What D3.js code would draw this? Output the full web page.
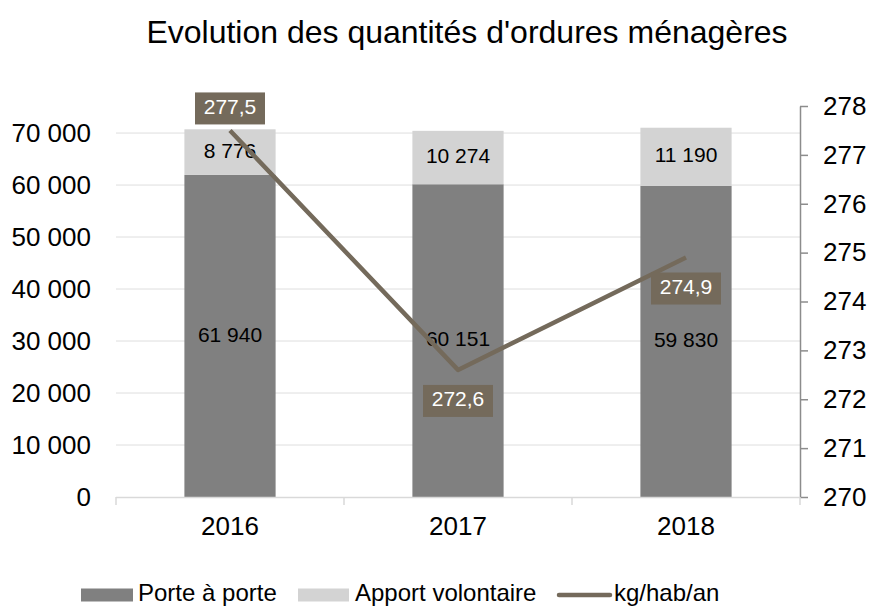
<!DOCTYPE html>
<html>
<head>
<meta charset="utf-8">
<script src="https://cdn.jsdelivr.net/npm/d3@7"></script>
<style>
  body { margin: 0; background: #fff; }
  #container { width: 870px; height: 607px; }
  text { font-family: "Liberation Sans", Arial, sans-serif; }
</style>
</head>
<body>
<div id="container"></div>
<script>
// chart values
const years = ["2016", "2017", "2018"];
const porteAPorte = [61940, 60151, 59830];
const apportVolontaire = [8776, 10274, 11190];
const kgHabAn = [277.5, 272.6, 274.9];
const leftTicks = [0, 10000, 20000, 30000, 40000, 50000, 60000, 70000];
const rightTicks = [270, 271, 272, 273, 274, 275, 276, 277, 278];
const legendLabels = ["Porte à porte", "Apport volontaire", "kg/hab/an"];
const title = "Evolution des quantités d'ordures ménagères";

const dark = "#808080",
      light = "#d3d3d3",
      lineColor = "#746a5b",
      gridColor = "#dedede";

const fr = d3.formatLocale({decimal: ",", thousands: " ", grouping: [3], currency: ["", " €"]});
const fmtInt = fr.format(",d");
const fmtDec = fr.format(",.1f");

function draw() {
  const width = 870, height = 607;
  const plot = {left: 116, right: 800, top: 106, bottom: 497};

  let svg = d3.select("#container")
    .append("svg")
    .attr("width", width)
    .attr("height", height);

  const x = d3.scaleBand()
    .domain(years)
    .range([plot.left, plot.right])
    .paddingInner(0.6)
    .paddingOuter(0.3);

  const band = d3.scaleBand().domain(years).range([plot.left, plot.right]);

  const yLeft = d3.scaleLinear()
    .domain([0, 75200])
    .range([plot.bottom, plot.top]);

  const yRight = d3.scaleLinear()
    .domain([270, 278])
    .range([plot.bottom, plot.top]);

  // title
  svg.append("text")
    .attr("x", 467)
    .attr("y", 43)
    .attr("text-anchor", "middle")
    .attr("font-size", 32)
    .attr("fill", "#000")
    .text(title);

  // gridlines
  svg.append("g")
    .selectAll("line")
    .data(leftTicks.slice(1))
    .enter()
    .append("line")
    .attr("x1", plot.left)
    .attr("x2", plot.right)
    .attr("y1", d => yLeft(d))
    .attr("y2", d => yLeft(d))
    .attr("stroke", gridColor)
    .attr("stroke-width", 1);

  // left axis labels
  const leftAxis = d3.axisLeft(yLeft)
    .tickValues(leftTicks)
    .tickFormat(fmtInt)
    .tickSize(0)
    .tickPadding(25);

  const leftG = svg.append("g")
    .attr("transform", "translate(" + plot.left + ",0)")
    .call(leftAxis);
  leftG.select(".domain").remove();
  leftG.selectAll("text")
    .attr("font-size", 26)
    .attr("fill", "#000")
    .attr("font-family", "Liberation Sans, Arial, sans-serif");

  // right axis
  const rightAxis = d3.axisRight(yRight)
    .tickValues(rightTicks)
    .tickFormat(d3.format("d"))
    .tickSizeInner(8)
    .tickSizeOuter(0)
    .tickPadding(15);

  const rightG = svg.append("g")
    .attr("transform", "translate(" + plot.right + ",0)")
    .call(rightAxis);
  rightG.select(".domain").attr("stroke", "#8c8c8c").attr("stroke-width", 1.5);
  rightG.selectAll(".tick line").attr("stroke", "#8c8c8c").attr("stroke-width", 1.5);
  rightG.selectAll("text")
    .attr("font-size", 26)
    .attr("fill", "#000")
    .attr("font-family", "Liberation Sans, Arial, sans-serif");

  // stacked bars
  const stackData = years.map((y, i) => ({year: y, a: porteAPorte[i], b: apportVolontaire[i]}));
  const series = d3.stack().keys(["a", "b"])(stackData);
  const colors = [dark, light];

  const bars = svg.append("g").attr("class", "bars");
  series.forEach((s, si) => {
    bars.append("g")
      .selectAll("rect")
      .data(s)
      .enter()
      .append("rect")
      .attr("x", d => x(d.data.year))
      .attr("width", x.bandwidth())
      .attr("y", d => yLeft(d[1]))
      .attr("height", d => yLeft(d[0]) - yLeft(d[1]))
      .attr("fill", colors[si]);
  });

  // category axis
  svg.append("line")
    .attr("x1", plot.left)
    .attr("x2", plot.right)
    .attr("y1", plot.bottom + 0.5)
    .attr("y2", plot.bottom + 0.5)
    .attr("stroke", "#d9d9d9")
    .attr("stroke-width", 1.5);

  const catTicks = years.map(y => band(y)).concat([plot.right]);
  svg.append("g")
    .selectAll("line")
    .data(catTicks)
    .enter()
    .append("line")
    .attr("x1", d => d)
    .attr("x2", d => d)
    .attr("y1", plot.bottom)
    .attr("y2", plot.bottom + 8)
    .attr("stroke", "#d9d9d9")
    .attr("stroke-width", 1.5);

  svg.append("g")
    .selectAll("text")
    .data(years)
    .enter()
    .append("text")
    .attr("x", d => band(d) + band.bandwidth() / 2)
    .attr("y", 528)
    .attr("text-anchor", "middle")
    .attr("dominant-baseline", "middle")
    .attr("font-size", 26)
    .attr("fill", "#000")
    .text(d => d);

  // bar labels
  series.forEach(s => {
    svg.append("g")
      .selectAll("text")
      .data(s)
      .enter()
      .append("text")
      .attr("x", d => x(d.data.year) + x.bandwidth() / 2)
      .attr("y", d => yLeft((d[0] + d[1]) / 2))
      .attr("text-anchor", "middle")
      .attr("dominant-baseline", "middle")
      .attr("font-size", 21)
      .attr("fill", "#000")
      .text(d => fmtInt(d[1] - d[0]));
  });

  // line
  const cx = (d, i) => x(years[i]) + x.bandwidth() / 2;
  const lineGen = d3.line()
    .x((d, i) => cx(d, i))
    .y(d => yRight(d));

  svg.append("path")
    .datum(kgHabAn)
    .attr("d", lineGen)
    .attr("fill", "none")
    .attr("stroke", lineColor)
    .attr("stroke-width", 4.5)
    .attr("stroke-linejoin", "round");

  // line labels
  const maxVal = d3.max(kgHabAn);
  const boxW = 70, boxH = 32;
  const lbl = svg.append("g")
    .selectAll("g")
    .data(kgHabAn)
    .enter()
    .append("g")
    .attr("transform", (d, i) => {
      const cy = d === maxVal ? yRight(d) - 22 : yRight(d) + 31;
      return "translate(" + cx(d, i) + "," + cy + ")";
    });

  lbl.append("rect")
    .attr("x", -boxW / 2)
    .attr("y", -boxH / 2)
    .attr("width", boxW)
    .attr("height", boxH)
    .attr("fill", lineColor);

  lbl.append("text")
    .attr("text-anchor", "middle")
    .attr("dominant-baseline", "middle")
    .attr("font-size", 21)
    .attr("fill", "#fff")
    .text(d => fmtDec(d));

  // legend
  const legendY = 595;
  const legend = svg.append("g").attr("class", "legend");

  legend.append("rect")
    .attr("x", 81).attr("y", legendY - 6.5)
    .attr("width", 52).attr("height", 13)
    .attr("fill", dark);
  legend.append("text")
    .attr("x", 138).attr("y", legendY)
    .attr("dominant-baseline", "middle")
    .attr("font-size", 24)
    .text(legendLabels[0]);

  legend.append("rect")
    .attr("x", 298).attr("y", legendY - 6.5)
    .attr("width", 51).attr("height", 13)
    .attr("fill", light);
  legend.append("text")
    .attr("x", 355).attr("y", legendY)
    .attr("dominant-baseline", "middle")
    .attr("font-size", 24)
    .text(legendLabels[1]);

  legend.append("line")
    .attr("x1", 559).attr("x2", 610)
    .attr("y1", legendY).attr("y2", legendY)
    .attr("stroke", lineColor)
    .attr("stroke-width", 4.5)
    .attr("stroke-linecap", "round");
  legend.append("text")
    .attr("x", 614).attr("y", legendY)
    .attr("dominant-baseline", "middle")
    .attr("font-size", 24)
    .text(legendLabels[2]);
}

window.addEventListener("load", function () {
  draw();
});
</script>
</body>
</html>
